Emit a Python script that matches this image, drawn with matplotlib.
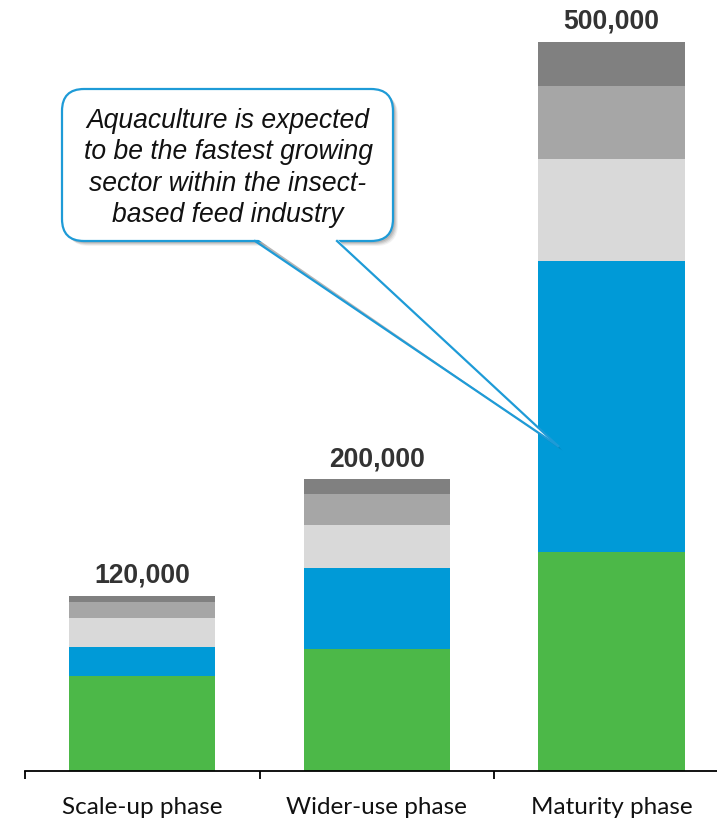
import matplotlib
matplotlib.use("Agg")
import matplotlib.pyplot as plt
import matplotlib.transforms as mtransforms
from matplotlib.patches import FancyBboxPatch, Polygon
from matplotlib.lines import Line2D
import numpy as np

categories = ["Scale-up phase", "Wider-use phase", "Maturity phase"]
totals = [120000, 200000, 500000]
seg_green = [65000, 84000, 150000]
seg_blue = [20000, 55000, 200000]
seg_light = [20000, 30000, 70000]
seg_mid = [11000, 21000, 50000]
seg_dark = [4000, 10000, 30000]
total_labels = ["120,000", "200,000", "500,000"]
callout_text = "Aquaculture is expected\nto be the fastest growing\nsector within the insect-\nbased feed industry"

colors = ["#4CB848", "#009AD7", "#D9D9D9", "#A6A6A6", "#808080"]

W, H = 717, 820
fig = plt.figure(figsize=(W / 100, H / 100), dpi=100)
ax = fig.add_axes([25 / W, (H - 772) / H, 1 - 25 / W, 772 / H])

x = np.arange(len(categories))
bottom = np.zeros(len(categories))
for seg, c in zip([seg_green, seg_blue, seg_light, seg_mid, seg_dark], colors):
    ax.bar(x, seg, width=0.623, bottom=bottom, color=c, edgecolor="none", zorder=2)
    bottom += np.array(seg)

for xi, t, lab in zip(x, totals, total_labels):
    ax.annotate(lab, (xi, t), xytext=(0, 6), textcoords="offset points",
                ha="center", va="bottom", fontsize=19.1, fontweight="bold",
                color="#333333", family="Liberation Sans")

ax.set_xlim(-0.5, 2.45)
ax.set_ylim(0, 529500)
for s in ["top", "right", "left"]:
    ax.spines[s].set_visible(False)
ax.spines["bottom"].set_color("#000000")
ax.spines["bottom"].set_linewidth(1.3)
ax.set_yticks([])
ax.set_xticks([-0.5, 0.5, 1.5], minor=False)
ax.set_xticklabels([])
ax.tick_params(axis="x", which="major", length=6, width=1.3, direction="out", color="#000000")
ax.set_xticks(x, minor=True)
ax.set_xticklabels(categories, minor=True, fontsize=17.5, family="Lato", color="#111111")
ax.tick_params(axis="x", which="minor", length=0, pad=18)

# callout (figure pixel coordinates, from top-left)
pix = mtransforms.Affine2D().scale(1 / W, -1 / H).translate(0, 1) + fig.transFigure

x0, y0, x1, y1 = 62, 90, 393, 242
tail = [(255, 241), (558, 447), (337, 241)]
edge = "#1E9BD7"

for dx, dy, a in [(5, 5, 0.05), (4, 4, 0.07), (3, 3, 0.09), (2, 2, 0.10)]:
    fig.patches.append(FancyBboxPatch((x0 + dx, y0 + dy), x1 - x0, y1 - y0,
                                      boxstyle="round,pad=0,rounding_size=22",
                                      transform=pix, facecolor="#000000", alpha=a,
                                      edgecolor="none", zorder=5))
    fig.patches.append(Polygon([(px + dx, py + dy) for px, py in tail], closed=True,
                               transform=pix, facecolor="#000000", alpha=a,
                               edgecolor="none", zorder=5))

fig.patches.append(FancyBboxPatch((x0, y0), x1 - x0, y1 - y0,
                                  boxstyle="round,pad=0,rounding_size=22",
                                  transform=pix, facecolor="white",
                                  edgecolor=edge, linewidth=1.6, zorder=6))
fig.patches.append(Polygon([(tail[0][0] + 1, 239), tail[1], (tail[2][0] - 1, 239)], closed=True,
                           transform=pix, facecolor="white", edgecolor="none", zorder=7))
fig.lines.append(Line2D([tail[0][0], tail[1][0]], [tail[0][1] + 1, tail[1][1]], transform=pix,
                        color=edge, linewidth=1.6, zorder=8))
fig.lines.append(Line2D([tail[2][0], tail[1][0]], [tail[2][1] + 1, tail[1][1]], transform=pix,
                        color=edge, linewidth=1.6, zorder=8))

fig.text(228 / W, 1 - 168 / H, callout_text, ha="center", va="center",
         fontsize=19.1, style="italic", family="Liberation Sans", color="#111111",
         linespacing=1.27, zorder=9)

fig.savefig("out.png", dpi=100)
